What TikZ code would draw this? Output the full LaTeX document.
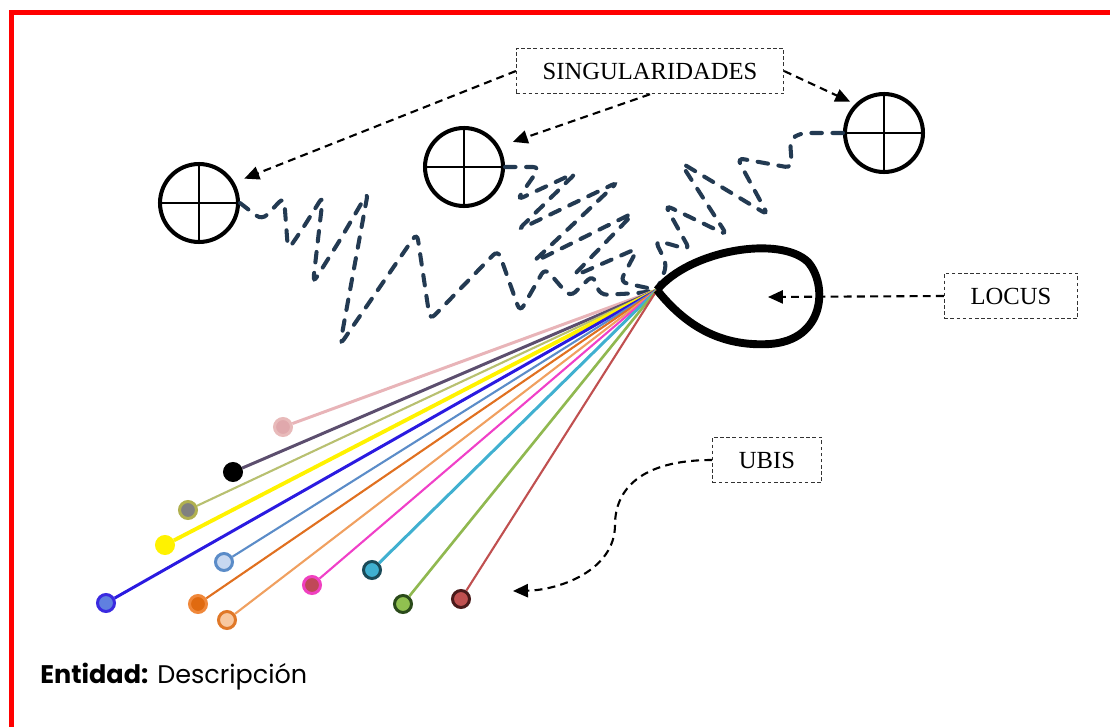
\documentclass[tikz,border=0pt]{standalone}
\usepackage{fontspec}
\setmainfont{Liberation Serif}
\newfontfamily\gothic{Poppins}
\usetikzlibrary{arrows.meta}

\definecolor{zigzag}{HTML}{233A52}
\definecolor{frame}{HTML}{FF0000}
% anillos y rellenos de los ubis
\definecolor{pinkring}{HTML}{E8BABA}   \definecolor{pinkfill}{HTML}{E0A8AC}
\definecolor{olivering}{HTML}{B0B050}  \definecolor{olivefill}{HTML}{808080}
\definecolor{yellowdot}{HTML}{FFF200}
\definecolor{bluering}{HTML}{3A2AE0}   \definecolor{bluefill}{HTML}{6080E0}
\definecolor{steelring}{HTML}{5B8CC8}  \definecolor{steelfill}{HTML}{C8D8F0}
\definecolor{orangering}{HTML}{F0883A} \definecolor{orangefill}{HTML}{E06A10}
\definecolor{peachring}{HTML}{E07828}  \definecolor{peachfill}{HTML}{F8C8A0}
\definecolor{magring}{HTML}{F040C0}    \definecolor{magfill}{HTML}{C04858}
\definecolor{cyanring}{HTML}{1A4A58}   \definecolor{cyanfill}{HTML}{40B0D0}
\definecolor{greenring}{HTML}{2A4A1A}  \definecolor{greenfill}{HTML}{90C050}
\definecolor{brickring}{HTML}{4A1A1A}  \definecolor{brickfill}{HTML}{C05050}
% rayos
\definecolor{raypink}{HTML}{E8B4B8}
\definecolor{raypurple}{HTML}{5C4E6E}
\definecolor{rayolive}{HTML}{B8C070}
\definecolor{rayblue}{HTML}{2A1AE0}
\definecolor{rayorange}{HTML}{E07020}
\definecolor{raypeach}{HTML}{F0A060}
\definecolor{raymag}{HTML}{F040C8}
\definecolor{raygreen}{HTML}{90B850}

\begin{document}
\begin{tikzpicture}[x=0.02cm, y=-0.02cm,
    labelbox/.style={draw=black!80, line width=0.5pt, dash pattern=on 2pt off 1.5pt,
      inner xsep=15pt, minimum height=26pt, font=\fontsize{14}{16}\selectfont},
    pointer/.style={-{Triangle[length=8.5pt,width=7.5pt]}, line width=1.2pt, dash pattern=on 4.5pt off 3pt},
    singcircle/.style={circle, draw, line width=2.3pt, minimum size=1.56cm, inner sep=0pt},
    trail/.style={draw=zigzag, line width=2.3pt, dash pattern=on 6pt off 6pt, line cap=round, rounded corners=4pt},
    ubis/.style={circle, line width=1.7pt, minimum size=0.34cm, inner sep=0pt}]
    \useasboundingbox (0,0) rectangle (1110,727);

    % marco
    \draw[frame, line width=2.8pt] (11.5,727) -- (11.5,12.5) -- (1110,12.5);

    % singularidades
    \node[singcircle] (sing1) at (199,203) {};
    \node[singcircle] (sing2) at (464,167) {};
    \node[singcircle] (sing3) at (884,133) {};
    \foreach \s in {sing1,sing2,sing3}
      \draw[line width=1.5pt] (\s.north) -- (\s.south) (\s.west) -- (\s.east);

    \coordinate (lpoint) at (657,290);
    \coordinate (lcenter) at (768,297);

    % trayectorias
    \draw[trail] (sing1.east) -- (262,220) -- (284,197) -- (288,250) -- (303,228) -- (323,196)
      -- (313,283) -- (340,240) -- (368,192) -- (340,345) -- (417,233) -- (430,320)
      -- (498,250) -- (520,312) -- (545,268) -- (570,297) -- (593,275) -- (600,295)
      -- (640,293) -- (lpoint);
    \draw[trail] (sing2.east) -- (540,167) -- (517,200) -- (577,172) -- (518,230) -- (618,182)
      -- (532,263) -- (635,212) -- (572,277) -- (638,248) -- (620,282) -- (lpoint);
    \draw[trail] (sing3.west) -- (800,133) -- (790,140) -- (792,168) -- (737,158) -- (768,215)
      -- (680,162) -- (727,235) -- (665,205) -- (690,250) -- (655,240) -- (667,265) -- (lpoint);

    % ubis
    \node[ubis, draw=pinkring, fill=pinkfill] (u1) at (283,427) {};
    \node[ubis, draw=black, fill=black] (u2) at (233,472) {};
    \node[ubis, draw=olivering, fill=olivefill] (u3) at (188,510) {};
    \node[ubis, draw=yellowdot, fill=yellowdot] (u4) at (165,545) {};
    \node[ubis, draw=bluering, fill=bluefill] (u5) at (106,603) {};
    \node[ubis, draw=steelring, fill=steelfill] (u6) at (224,562) {};
    \node[ubis, draw=orangering, fill=orangefill] (u7) at (198,604) {};
    \node[ubis, draw=peachring, fill=peachfill] (u8) at (227,620) {};
    \node[ubis, draw=magring, fill=magfill] (u9) at (312,585) {};
    \node[ubis, draw=cyanring, fill=cyanfill] (u10) at (372,570) {};
    \node[ubis, draw=greenring, fill=greenfill] (u11) at (403,604) {};
    \node[ubis, draw=brickring, fill=brickfill] (u12) at (461,599) {};

    \draw[raypink, line width=1.7pt] (lpoint) -- (u1);
    \draw[raypurple, line width=1.7pt] (lpoint) -- (u2);
    \draw[rayolive, line width=1.2pt] (lpoint) -- (u3);
    \draw[yellowdot, line width=2.2pt] (lpoint) -- (u4);
    \draw[rayblue, line width=1.7pt] (lpoint) -- (u5);
    \draw[steelring, line width=1.2pt] (lpoint) -- (u6);
    \draw[rayorange, line width=1.2pt] (lpoint) -- (u7);
    \draw[raypeach, line width=1.2pt] (lpoint) -- (u8);
    \draw[raymag, line width=1.2pt] (lpoint) -- (u9);
    \draw[cyanfill, line width=1.7pt] (lpoint) -- (u10);
    \draw[raygreen, line width=1.5pt] (lpoint) -- (u11);
    \draw[brickfill, line width=1.2pt] (lpoint) -- (u12);

    % locus
    \draw[line width=4.5pt, line join=round] (lpoint) .. controls (690,250) and (780,235) .. (808,262)
      .. controls (828,285) and (825,340) .. (770,344) .. controls (720,347) and (685,325) .. (lpoint);

    % etiquetas
    \node[labelbox] (singlabel) at (650,71) {SINGULARIDADES};
    \node[labelbox] (locuslabel) at (1011,296) {LOCUS};
    \node[labelbox] (ubislabel) at (767,460) {UBIS};
    \coordinate (ubistip) at (513,591);

    \draw[pointer, shorten >=6pt] (singlabel.west) -- (sing1.30);
    \draw[pointer, shorten >=8pt] (singlabel.south) -- (sing2.30);
    \draw[pointer, shorten >=3pt] (singlabel.east) -- (sing3.135);
    \draw[pointer] (locuslabel.west) -- (lcenter);
    \draw[pointer] (ubislabel.west) .. controls (640,460) and (615,490) .. (615,525)
      .. controls (615,570) and (560,590) .. (ubistip);

    \node[anchor=base west, inner sep=0pt, font=\gothic\fontsize{14.5}{18}\selectfont] (legend)
      at (40,683) {\textbf{Entidad:} Descripción};
\end{tikzpicture}
\end{document}
